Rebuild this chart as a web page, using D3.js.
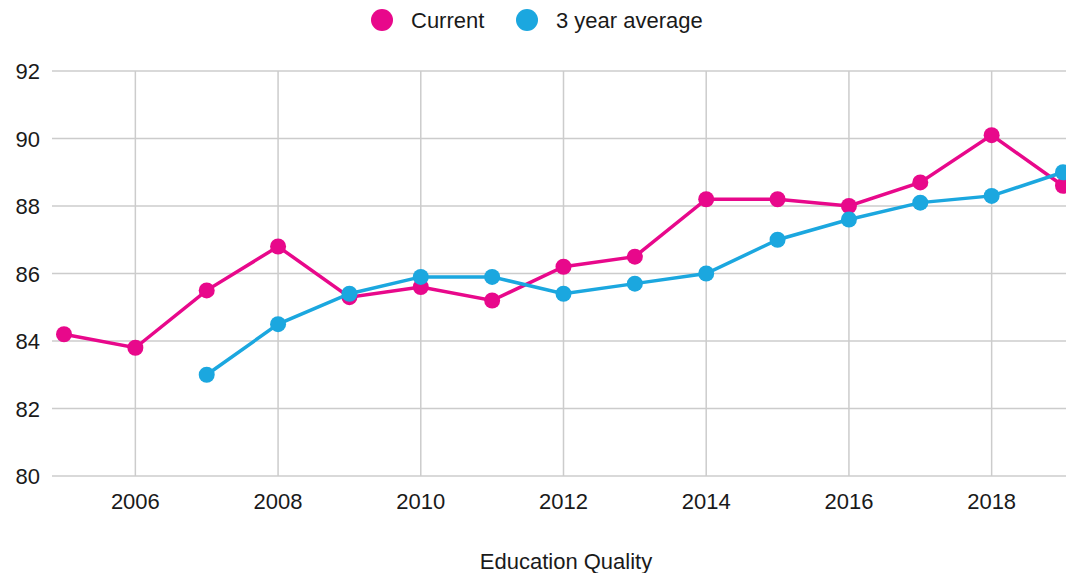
<!DOCTYPE html>
<html>
<head>
<meta charset="utf-8">
<script src="https://cdn.jsdelivr.net/npm/d3@7"></script>
<style>
  body { margin: 0; background: #fff; }
  text { font-family: "Liberation Sans", Arial, sans-serif; fill: #1a1a1a; }
</style>
</head>
<body>
<script>
// Chart size
const width = 1066;
const height = 573;

// Data
const years = [2005, 2006, 2007, 2008, 2009, 2010, 2011, 2012, 2013, 2014, 2015, 2016, 2017, 2018, 2019];
const current = [84.2, 83.8, 85.5, 86.8, 85.3, 85.6, 85.2, 86.2, 86.5, 88.2, 88.2, 88.0, 88.7, 90.1, 88.6];
const avgYears = [2007, 2008, 2009, 2010, 2011, 2012, 2013, 2014, 2015, 2016, 2017, 2018, 2019];
const average = [83.0, 84.5, 85.4, 85.9, 85.9, 85.4, 85.7, 86.0, 87.0, 87.6, 88.1, 88.3, 89.0];
const xTicks = [2006, 2008, 2010, 2012, 2014, 2016, 2018];
const yTicks = [80, 82, 84, 86, 88, 90, 92];
const seriesNames = ["Current", "3 year average"];
const colors = ["#e8088b", "#1ba7df"];

const svg = d3.select("body")
  .append("svg")
  .attr("width", width)
  .attr("height", height);

const x = d3.scaleLinear().domain([2005, 2019]).range([64, 1063]);
const y = d3.scaleLinear().domain([80, 92]).range([476, 71]);

// Grid lines
svg.selectAll(".hgrid")
  .data(yTicks)
  .enter()
  .append("line")
  .attr("x1", 52)
  .attr("x2", width)
  .attr("y1", d => y(d))
  .attr("y2", d => y(d))
  .attr("stroke", "#cccccc")
  .attr("stroke-width", 1.5);

svg.selectAll(".vgrid")
  .data(xTicks)
  .enter()
  .append("line")
  .attr("x1", d => x(d))
  .attr("x2", d => x(d))
  .attr("y1", y(92))
  .attr("y2", y(80))
  .attr("stroke", "#cccccc")
  .attr("stroke-width", 1.5);

// Axis labels
svg.selectAll(".ylab")
  .data(yTicks)
  .enter()
  .append("text")
  .attr("x", 40)
  .attr("y", d => y(d) + 8)
  .attr("text-anchor", "end")
  .attr("font-size", 22)
  .text(d => d);

svg.selectAll(".xlab")
  .data(xTicks)
  .enter()
  .append("text")
  .attr("x", d => x(d))
  .attr("y", 509)
  .attr("text-anchor", "middle")
  .attr("font-size", 22)
  .text(d => d);

svg.append("text")
  .attr("x", 566)
  .attr("y", 569)
  .attr("text-anchor", "middle")
  .attr("font-size", 22)
  .text("Education Quality");

// Series
const line = d3.line().x(d => x(d[0])).y(d => y(d[1]));
const series = [
  d3.zip(years, current),
  d3.zip(avgYears, average)
];

series.forEach((pts, i) => {
  svg.append("path")
    .datum(pts)
    .attr("fill", "none")
    .attr("stroke", colors[i])
    .attr("stroke-width", 3.5)
    .attr("d", line);

  svg.selectAll(".pt" + i)
    .data(pts)
    .enter()
    .append("circle")
    .attr("cx", d => x(d[0]))
    .attr("cy", d => y(d[1]))
    .attr("r", 8)
    .attr("fill", colors[i]);
});

// Legend
const legendX = [382, 527];
seriesNames.forEach((name, i) => {
  svg.append("circle")
    .attr("cx", legendX[i])
    .attr("cy", 20)
    .attr("r", 11)
    .attr("fill", colors[i]);
  svg.append("text")
    .attr("x", legendX[i] + 29)
    .attr("y", 28)
    .attr("font-size", 22)
    .text(name);
});
</script>
</body>
</html>
